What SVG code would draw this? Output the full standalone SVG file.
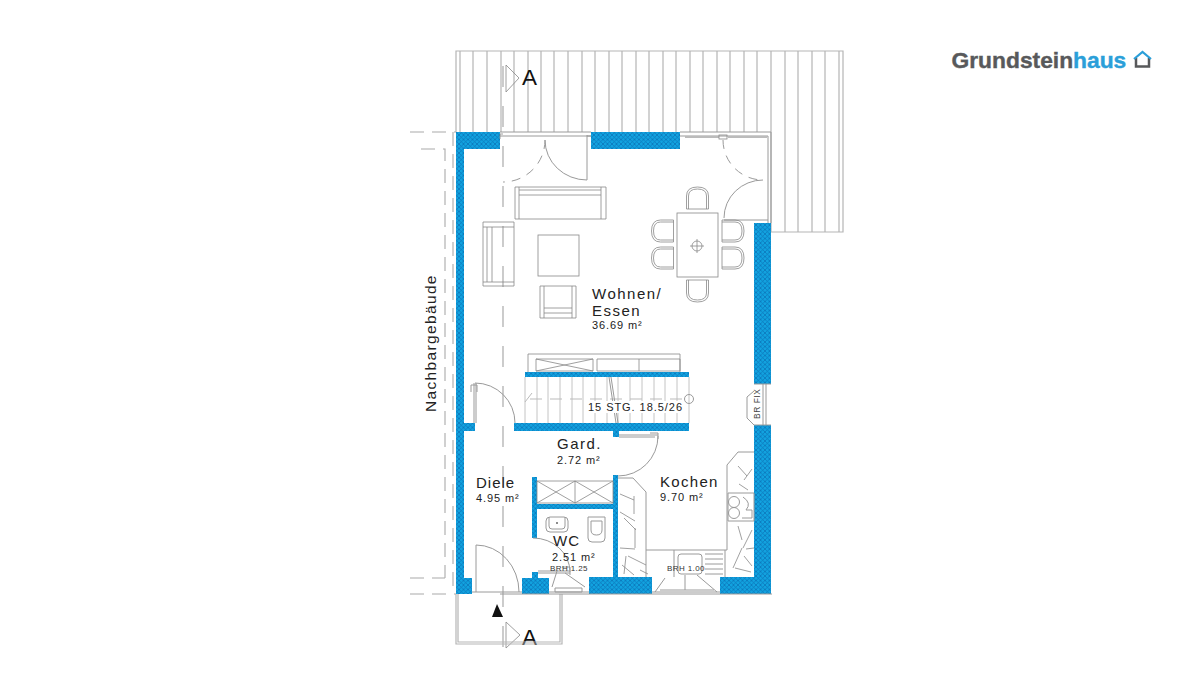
<svg xmlns="http://www.w3.org/2000/svg" xmlns:xlink="http://www.w3.org/1999/xlink" width="1200" height="700" viewBox="0 0 1200 700">
<style>
text{font-family:"Liberation Sans",Arial,sans-serif;fill:#222}
.l{fill:none;stroke:#9a9a9a;stroke-width:1}
.f{fill:none;stroke:#888;stroke-width:.8}
.t{fill:none;stroke:#b5b5b5;stroke-width:1.2}
.d{fill:none;stroke:#aaa;stroke-width:1.1;stroke-dasharray:14 8}
.s{fill:none;stroke:#aaa;stroke-width:1.2;stroke-dasharray:21 19}
.w{fill:url(#hatch)}
.big{font-size:15px;letter-spacing:1.5px}
.m{font-size:11px;letter-spacing:.9px}
.sm{font-size:8px;letter-spacing:.4px;fill:#333}
</style>
<defs>
<pattern id="hatch" width="4.500" height="4.500" patternUnits="userSpaceOnUse">
<rect width="4.500" height="4.500" fill="#12a3e0"/>
<path d="M0 0L4.500 4.500M4.500 0L0 4.500" stroke="#0a70b4" stroke-width=".7"/>
</pattern>
<g id="chair"><path class="f" d="M-11 11V-2Q-11 -11 0 -11Q11 -11 11 -2V11H-11M-9 11V-2Q-9 -9 0 -9Q9 -9 9 -2V11"/></g>
</defs>
<rect width="1200" height="700" fill="#fff"/>

<g id="terrace">
<path class="t" d="M456 132V51H843V232H771"/>
<path class="t" d="M460 51V132M473 51V132M487 51V132M501 51V132M514 51V132M528 51V132M541 51V132M554 51V132M568 51V132M582 51V132M595 51V132M609 51V132M622 51V132M636 51V132M649 51V132M663 51V132M676 51V132M690 51V132M703 51V132M717 51V132M730 51V132M744 51V132M757 51V132M771 51V232M785 51V232M798 51V232M812 51V232M825 51V232M839 51V232"/>
</g>

<g id="neighbour">
<path class="d" d="M410 132H456M421 149H445V578M453 132V594M410 578H445M410 594H456"/>
<text transform="translate(436 412) rotate(-90)" style="font-size:15.500px;letter-spacing:1.350px">Nachbargebäude</text>
</g>

<g id="section">
<path class="s" d="M503 66V650"/>
<path class="f" d="M506 65L519 78L506 92ZM506 622L520 635L506 648Z"/>
<path d="M497 604L492 617H503Z" fill="#111"/>
<text x="522" y="85" font-size="22.500" style="fill:#111">A</text>
<text x="522" y="645" font-size="22.500" style="fill:#111">A</text>
</g>

<g id="porch"><path class="t" d="M456 594V644H562V594M458 594V642H560V594"/></g>

<g id="walls">
<path class="w" d="M456 132H500V149H464V578H472V594H456Z"/>
<rect class="w" x="591" y="132" width="89" height="17"/>
<rect class="w" x="754" y="223" width="17" height="161"/>
<path class="w" d="M754 425H771V594H720V577H754Z"/>
<path class="w" d="M522 578H532V572H538V578H549V594H522Z"/>
<path class="w" d="M589 577H613V475H618V577H652V594H589Z"/>
<rect class="w" x="464" y="423" width="11" height="8"/>
<rect class="w" x="514" y="423" width="175" height="8"/>
<rect class="w" x="525" y="372" width="164" height="5"/>
<rect class="w" x="613" y="431" width="6" height="6"/>
<rect class="w" x="532" y="477" width="5" height="61"/>
<rect class="w" x="537" y="504" width="76" height="5"/>
</g>

<g id="openings">
<path class="l" d="M500 132H591M500 136H591M500 594H772M472 592H522M549 592H589M652 592H720M680 132H771V223M680 136H768V223"/>
<path class="f" d="M503 134H500V139M587 136H591"/>
<path d="M685 137H719M728 137H767" stroke="#bbb" stroke-width="2" fill="none"/>
<rect class="f" x="719" y="135" width="8" height="4"/>
<path class="l" d="M587 135V180M587 180A42 40 0 0 1 545 140"/>
<path class="l" stroke-dasharray="9 7" d="M545 140A42 42 0 0 1 503 182"/>
<path class="l" d="M763 180A39 38 0 0 0 724 218M724 220H768"/>
<path class="l" stroke-dasharray="9 7" d="M723 140A40 40 0 0 0 763 180"/>
<path class="l" d="M474 383V423M476 383V423M471 392V385H477V392M475 383A40 40 0 0 1 515 423"/>
<path class="l" d="M619 435H658M619 437H655M658 436A40 40 0 0 1 618 476M650 433H658V439"/>
<path class="l" d="M476 592V545A43 47 0 0 1 519 592"/>
<path class="l" d="M538 571H570M538 573H570M570 572A37 34 0 0 0 533 538M562 567H570V575"/>
<path class="l" d="M552 587L557 571M585 587L565 573M555 588H582V592H555ZM655 592L665 578M717 592L697 575M660 590H714M685 590V575"/>
<path class="l" d="M754 384H771M754 425H771M766 384V425M763 384V425M754 391L747 397V418L754 425"/>
<text transform="translate(760 419) rotate(-90)" font-size="8.500" letter-spacing=".5" style="fill:#444">BR FIX</text>
</g>

<g id="sofa"><path class="f" d="M515 187H606V219H515ZM519 187V219M601 187V219M519 190H601M519 195H601"/></g>
<g id="sofa-left"><path class="f" d="M483 222H514V286H483ZM483 227H514M483 282H514M487 227V282M492 227V282"/></g>
<g id="coffee-table"><rect class="f" x="538" y="235" width="41" height="41"/></g>
<g id="armchair"><path class="f" d="M540 286H576V318H540ZM544 286V318M572 286V318M544 308H572M544 313H572"/></g>
<g id="dining">
<rect class="f" x="677" y="213" width="41" height="64"/>
<circle class="f" cx="697" cy="246" r="5"/><path class="f" d="M690 246H704M697 239V253"/>
<use xlink:href="#chair" href="#chair" transform="translate(697.500 198)"/>
<use xlink:href="#chair" href="#chair" transform="translate(697.500 291) rotate(180)"/>
<use xlink:href="#chair" href="#chair" transform="translate(662.500 231) rotate(-90)"/>
<use xlink:href="#chair" href="#chair" transform="translate(662.500 258) rotate(-90)"/>
<use xlink:href="#chair" href="#chair" transform="translate(733 231) rotate(90)"/>
<use xlink:href="#chair" href="#chair" transform="translate(733 258) rotate(90)"/>
</g>

<g id="stairs">
<path class="f" d="M528 372V354H680V372M536 359H593V371H536ZM536 359L593 371M593 359L536 371M597 359H680V371H597ZM639 359V371"/>
<path stroke="#c4c4c4" fill="none" d="M525 377V423M537 377V423M548 377V423M560 377V423M572 377V423M583 377V423M595 377V423M607 377V423M618 377V423M630 377V423M642 377V423M654 377V423M665 377V423M677 377V423M689 377V423"/>
<path stroke="#bbb" fill="none" stroke-dasharray="12 8" d="M530 399H685M525 402L532 393"/>
<path class="l" d="M609 377L616 423M611 377L618 423"/>
<circle class="l" cx="689" cy="399" r="4.500"/>
<rect x="586" y="401" width="98" height="12" fill="#fff"/>
<text x="588" y="411" font-size="11" letter-spacing=".95">15 STG. 18.5/26</text>
</g>

<g id="wc">
<path class="f" d="M537 481H613V503H537ZM575 481V503M537 481L575 503M575 481L537 503M575 481L613 503M613 481L575 503"/>
<rect class="l" x="546" y="517" width="22" height="15" rx="4"/>
<path class="l" d="M549 517V526Q549 529 552 529H562Q565 529 565 526V517"/>
<circle cx="557" cy="523" r="1" fill="#666"/>
<path class="l" d="M588 517V538Q588 542 592 542H601Q605 542 605 538V517ZM591 521H602V530Q602 535 596.500 535Q591 535 591 530Z"/>
</g>

<g id="kitchen">
<path class="l" d="M618 478H633L646 492V550H727V465L738 452H754"/>
<path class="l" d="M646 550V577M674 550V577M725 550V577"/>
<rect class="l" x="678" y="554" width="24" height="20" rx="3"/>
<path class="l" d="M705 554H723M705 559H723M705 564H723M705 569H723M705 574H723"/>
<path class="l" d="M728 493H754V521H728Z"/>
<circle class="l" cx="734" cy="502" r="5.500"/><circle class="l" cx="734" cy="513" r="5.500"/>
<path class="l" d="M743 497Q752 503 746 510H752V518H742"/>
<path class="f" d="M620 494L634 500M634 496V514M620 512L635 521M624 518L636 530M635 528V548M620 548L635 549M628 556L646 565M622 565L634 575M626 556L624 574M640 570L648 574M738 466L747 476M752 469L744 480M739 484L748 490M738 526L742 540M752 530L743 548M746 549L754 548M742 548L733 568M735 568L751 572M744 556L752 566"/>
</g>

<g id="labels">
<text class="big" x="592" y="299">Wohnen/</text>
<text class="big" x="592" y="316">Essen</text>
<text class="m" x="592" y="329">36.69 m²</text>
<text class="big" x="557" y="449">Gard.</text>
<text class="m" x="557" y="464">2.72 m²</text>
<text class="big" x="476" y="488" style="letter-spacing:1px">Diele</text>
<text class="m" x="476" y="502">4.95 m²</text>
<text class="big" x="553" y="546" style="letter-spacing:1px">WC</text>
<text class="m" x="552" y="561">2.51 m²</text>
<text class="sm" x="550" y="571">BRH 1.25</text>
<text class="big" x="660" y="487" style="letter-spacing:1.300px">Kochen</text>
<text class="m" x="660" y="501">9.70 m²</text>
<text class="sm" x="667" y="571">BRH 1.00</text>
</g>

<g id="logo">
<text x="951.500" y="68" font-size="22.800" font-weight="700" stroke-width=".4" style="fill:#58595b;stroke:#58595b">Grundstein<tspan style="fill:#2b9fd9;stroke:#2b9fd9">haus</tspan></text>
<path d="M1136 58V66.500H1149V58" fill="none" stroke="#58595b" stroke-width="2.500"/>
<path d="M1134 59L1142.500 52L1151 59" fill="none" stroke="#2b9fd9" stroke-width="2.200"/>
</g>
</svg>
